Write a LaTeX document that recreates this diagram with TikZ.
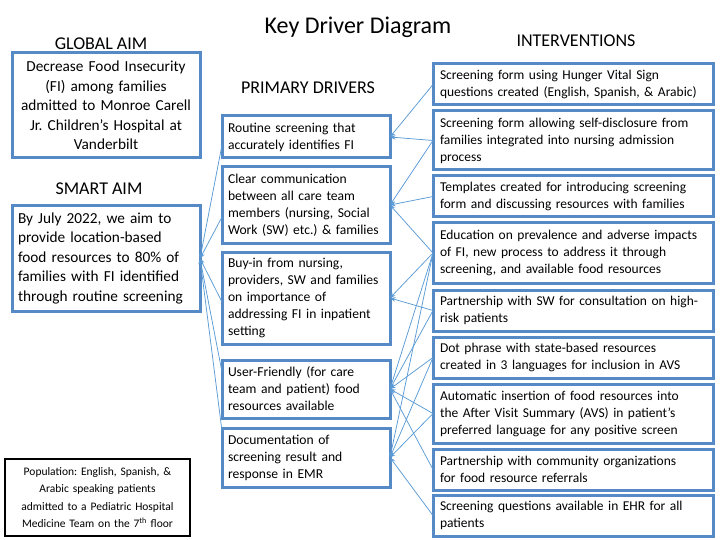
\documentclass[tikz,border=0pt]{standalone}
\usepackage{fontspec}
\setmainfont{Carlito}
\usetikzlibrary{arrows.meta, positioning}
\frenchspacing
\hyphenpenalty=10000
\definecolor{kdblue}{RGB}{86,138,198}
\definecolor{kdline}{RGB}{91,155,213}
\tikzstyle{aim} = [rectangle, draw=kdblue, line width=3pt, outer sep=0pt, fill=white, minimum width=188pt, minimum height=105pt, text width=176pt, inner xsep=6pt, font=\fontsize{15.3}{19.5}\selectfont]
\tikzstyle{driver} = [rectangle, draw=kdblue, line width=3pt, outer sep=0pt, fill=white, minimum width=168pt, minimum height=42pt, text width=156pt, inner xsep=6pt, align=left, font=\fontsize{13.6}{17}\selectfont]
\tikzstyle{intervention} = [rectangle, draw=kdblue, line width=3pt, outer sep=0pt, fill=white, minimum width=280pt, minimum height=41pt, text width=266pt, inner xsep=7pt, align=left, font=\fontsize{13.5}{17}\selectfont]
\tikzstyle{population} = [rectangle, draw=black, line width=2.2pt, outer sep=0pt, fill=white, minimum width=185pt, minimum height=77pt, text width=177pt, inner xsep=4pt, align=center, font=\fontsize{11.5}{17.5}\selectfont]
\tikzstyle{heading} = [font=\fontsize{18}{21}\selectfont]
\tikzstyle{arrow} = [kdline, line width=0.75pt, -{Stealth[length=5.5pt, width=4.5pt]}]

\begin{document}
\begin{tikzpicture}
			\useasboundingbox (0,0) rectangle (720pt,-540pt);
			% Title
			\node (title) [font=\fontsize{24}{28}\selectfont] at (358pt,-27pt) {Key Driver Diagram};
			% Aims
			\node (globalaim) [aim, align=center, anchor=north west] at (12pt,-53pt) {Decrease Food Insecurity\\(FI) among families\\admitted to Monroe Carell\\Jr. Children’s Hospital at\\Vanderbilt};
			\node (smartaim) [aim, align=left, below=48pt of globalaim] {By July 2022, we aim to\\provide location-based\\food resources to 80\% of\\families with FI identified\\through routine screening};
			\node (globalhead) [heading, above=0pt of globalaim, xshift=-5pt] {GLOBAL AIM};
			\node (smarthead) [heading, above=8pt of smartaim, xshift=-7pt] {SMART AIM};
			\node (population) [population, anchor=north west] at (5pt,-459pt) {Population: English, Spanish, \&\\Arabic speaking patients\\admitted to a Pediatric Hospital\\Medicine Team on the 7\textsuperscript{th} floor};
			% Primary drivers
			\node (routine) [driver, anchor=north west] at (222pt,-116pt) {Routine screening that\\accurately identifies FI};
			\node (comms) [driver, minimum height=76pt, below=9pt of routine] {Clear communication\\between all care team\\members (nursing, Social\\Work (SW) etc.) \& families};
			\node (buyin) [driver, minimum height=92pt, below=9pt of comms] {Buy-in from nursing,\\providers, SW and families\\on importance of\\addressing FI in inpatient\\setting};
			\node (userfriendly) [driver, minimum height=58pt, below=16pt of buyin] {User-Friendly (for care\\team and patient) food\\resources available};
			\node (documentation) [driver, minimum height=59pt, below=10pt of userfriendly] {Documentation of\\screening result and\\response in EMR};
			\node (drivershead) [heading, above=19pt of routine, xshift=2pt] {PRIMARY DRIVERS};
			% Interventions
			\node (hvsform) [intervention, anchor=north west] at (433pt,-64pt) {Screening form using Hunger Vital Sign\\questions created (English, Spanish, \& Arabic)};
			\node (selfdisclose) [intervention, minimum height=59pt, below=6pt of hvsform] {Screening form allowing self-disclosure from\\families integrated into nursing admission\\process};
			\node (templates) [intervention, below=6pt of selfdisclose] {Templates created for introducing screening\\form and discussing resources with families};
			\node (education) [intervention, minimum height=60pt, below=6pt of templates] {Education on prevalence and adverse impacts\\of FI, new process to address it through\\screening, and available food resources};
			\node (swpartner) [intervention, below=7pt of education] {Partnership with SW for consultation on high-\\risk patients};
			\node (dotphrase) [intervention, below=6pt of swpartner] {Dot phrase with state-based resources\\created in 3 languages for inclusion in AVS};
			\node (autoavs) [intervention, minimum height=59pt, below=6pt of dotphrase] {Automatic insertion of food resources into\\the After Visit Summary (AVS) in patient’s\\preferred language for any positive screen};
			\node (community) [intervention, below=6pt of autoavs] {Partnership with community organizations\\for food resource referrals};
			\node (ehrquestions) [intervention, below=5pt of community] {Screening questions available in EHR for all\\patients};
			\node (intervhead) [heading, above=14pt of hvsform, xshift=3pt] {INTERVENTIONS};
			% Arrows into the drivers
			\draw [arrow] (hvsform.west) -- (routine.east);
			\draw [arrow] (selfdisclose.west) -- (routine.east);
			\draw [arrow] (selfdisclose.west) -- (comms.east);
			\draw [arrow] (templates.west) -- (comms.east);
			\draw [arrow] (education.west) -- (comms.east);
			\draw [arrow] (education.west) -- (buyin.east);
			\draw [arrow] (education.west) -- (userfriendly.east);
			\draw [arrow] (education.west) -- (documentation.east);
			\draw [arrow] (swpartner.west) -- (buyin.east);
			\draw [arrow] (swpartner.west) -- (userfriendly.east);
			\draw [arrow] (dotphrase.west) -- (userfriendly.east);
			\draw [arrow] (dotphrase.west) -- (documentation.east);
			\draw [arrow] (autoavs.west) -- (userfriendly.east);
			\draw [arrow] (autoavs.west) -- (documentation.east);
			\draw [arrow] (community.west) -- (userfriendly.east);
			\draw [arrow] (ehrquestions.west) -- (documentation.east);
			% Arrows into the SMART aim
			\draw [arrow] ([yshift=-8pt]routine.west) -- (smartaim.east);
			\draw [arrow] ([yshift=-12pt]comms.west) -- (smartaim.east);
			\draw [arrow] ([yshift=-4pt]buyin.west) -- (smartaim.east);
			\draw [arrow] ([yshift=-12pt]userfriendly.north west) -- (smartaim.east);
			\draw [arrow] ([yshift=-3pt]documentation.north west) -- (smartaim.east);
		\end{tikzpicture}
\end{document}
